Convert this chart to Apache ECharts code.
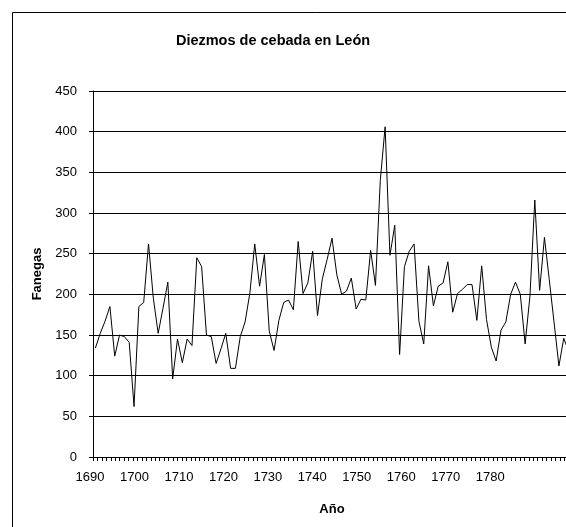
<!DOCTYPE html>
<html>
<head>
<meta charset="utf-8">
<script src="https://cdn.jsdelivr.net/npm/echarts@6/dist/echarts.min.js"></script>
<style>
  html, body { margin: 0; padding: 0; background: #fff; overflow: hidden; }
  #chart { width: 620px; height: 560px; }
</style>
</head>
<body>
<div id="chart"></div>
<script>
// Years of the series (one point per year)
const years = [
  1690, 1691, 1692, 1693, 1694, 1695, 1696, 1697, 1698, 1699,
  1700, 1701, 1702, 1703, 1704, 1705, 1706, 1707, 1708, 1709,
  1710, 1711, 1712, 1713, 1714, 1715, 1716, 1717, 1718, 1719,
  1720, 1721, 1722, 1723, 1724, 1725, 1726, 1727, 1728, 1729,
  1730, 1731, 1732, 1733, 1734, 1735, 1736, 1737, 1738, 1739,
  1740, 1741, 1742, 1743, 1744, 1745, 1746, 1747, 1748, 1749,
  1750, 1751, 1752, 1753, 1754, 1755, 1756, 1757, 1758, 1759,
  1760, 1761, 1762, 1763, 1764, 1765, 1766, 1767, 1768, 1769,
  1770, 1771, 1772, 1773, 1774, 1775, 1776, 1777, 1778, 1779,
  1780, 1781, 1782, 1783, 1784, 1785, 1786, 1787, 1788
]

// Tithes of barley (fanegas)
const fanegas = [
  134, 152, 167, 185, 124, 150, 148, 141, 62, 185,
  190, 262, 195, 152, 183, 215, 96, 145, 116, 145,
  137, 245, 234, 150, 148, 115, 133, 152, 109, 109,
  148, 166, 202, 262, 210, 249, 155, 131, 168, 190,
  193, 181, 265, 201, 214, 253, 174, 219, 243, 269,
  224, 200, 204, 220, 182, 194, 193, 254, 211, 340,
  406, 248, 285, 126, 234, 253, 262, 167, 139, 235,
  186, 210, 214, 240, 178, 201, 206, 212, 212, 168,
  235, 169, 135, 118, 156, 166, 200, 215, 200, 139,
  198, 316, 205, 270, 218, 165, 112, 146, 130
]

// Labels shown under the year axis
const xTickLabels = [1690, 1700, 1710, 1720, 1730, 1740, 1750, 1760, 1770, 1780]

const font = '"Liberation Sans", Arial, sans-serif'

const chart = echarts.init(document.getElementById('chart'))

const options = {
    animation: false,
    textStyle: { fontFamily: font, color: '#000' },
    title: {
        text: 'Diezmos de cebada en León',
        left: 268,
        top: 28,
        textAlign: 'center',
        textStyle: { fontFamily: font, fontSize: 14.5, fontWeight: 'bold', color: '#000' }
    },
    // outer chart frame (cut by the window on the right and bottom)
    graphic: [{
        type: 'rect',
        silent: true,
        z: -1,
        shape: { x: 12.5, y: 12.5, width: 700, height: 700 },
        style: { fill: 'none', stroke: '#000', lineWidth: 1 }
    }],
    grid: { left: 93, top: 91, width: 478, height: 366 },
    xAxis: [
        {
            // year scale used for ticks and labels
            type: 'value',
            min: 1690,
            max: 1797.5,
            interval: 1,
            name: 'Año',
            nameLocation: 'middle',
            nameGap: 46,
            nameTextStyle: { fontFamily: font, fontSize: 13, fontWeight: 'bold', color: '#000' },
            axisLine: { onZero: false, lineStyle: { color: '#000', width: 1 } },
            axisTick: { length: 4, lineStyle: { color: '#000', width: 1 } },
            axisLabel: {
                margin: 14,
                fontSize: 13,
                color: '#000',
                padding: [0, 6, 0, 0],
                showMaxLabel: false,
                formatter: v => xTickLabels.includes(v) ? String(v) : ''
            },
            splitLine: { show: false }
        },
        {
            // category scale the line is drawn on
            type: 'category',
            data: years,
            boundaryGap: true,
            show: false
        }
    ],
    yAxis: {
        type: 'value',
        min: 0,
        max: 450,
        interval: 50,
        name: 'Fanegas',
        nameLocation: 'middle',
        nameGap: 49,
        nameTextStyle: { fontFamily: font, fontSize: 13, fontWeight: 'bold', color: '#000' },
        axisLine: { show: true, onZero: false, lineStyle: { color: '#000', width: 1 } },
        axisTick: { show: true, length: 4, lineStyle: { color: '#000', width: 1 } },
        axisLabel: { margin: 16, fontSize: 13, color: '#000' },
        splitLine: { show: true, lineStyle: { color: '#000', width: 1 } }
    },
    series: [{
        name: 'Fanegas',
        type: 'line',
        xAxisIndex: 1,
        data: fanegas,
        symbol: 'none',
        lineStyle: { color: '#000', width: 1 }
    }]
}

chart.setOption(options)
</script>
</body>
</html>
